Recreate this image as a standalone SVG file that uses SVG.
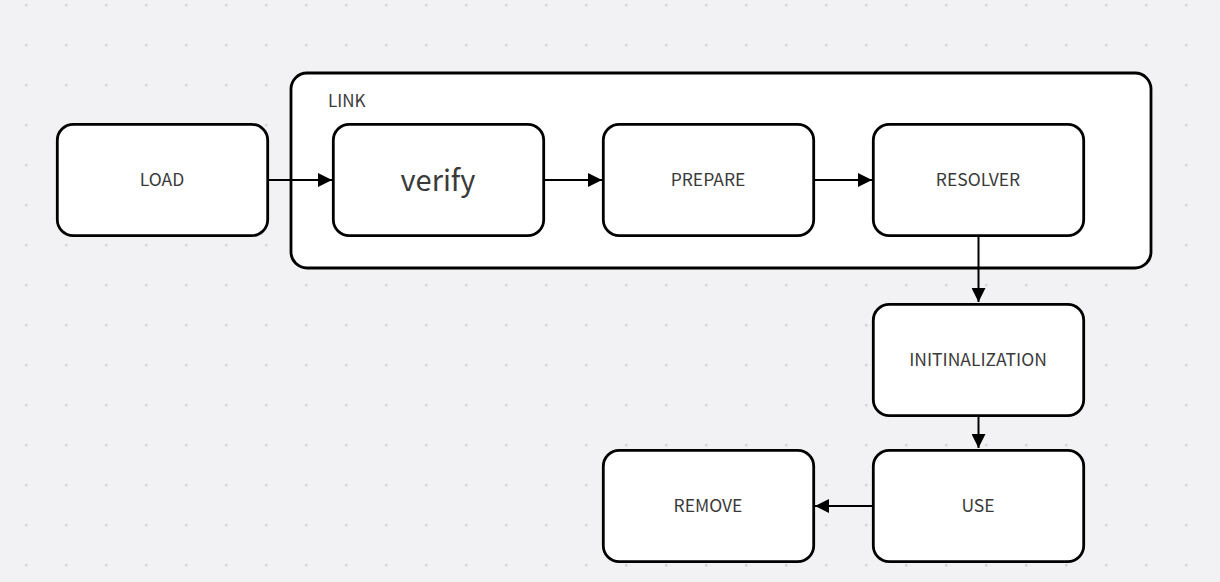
<svg xmlns="http://www.w3.org/2000/svg" width="1220" height="582" viewBox="0 0 1220 582">
<style>
.node rect{fill:#ffffff;stroke:#000000;stroke-width:2.8}
.lbl{font-family:"Noto Sans CJK SC","Noto Sans",sans-serif;font-size:17.5px;fill:#3a3a3a;text-anchor:middle;dominant-baseline:central}
.big{font-size:29px}
.edge{stroke:#000000;stroke-width:2;fill:none;marker-end:url(#arr)}
</style>
<defs>
<pattern id="dots" x="0" y="0" width="40" height="40" patternUnits="userSpaceOnUse">
<rect x="25" y="4" width="2.4" height="2.4" fill="#d2d2d6"/>
</pattern>
<marker id="arr" viewBox="0 0 14 14" refX="14" refY="7" markerWidth="14" markerHeight="14" markerUnits="userSpaceOnUse" orient="auto">
<path d="M0,0 L14,7 L0,14 Z" fill="#000000"/>
</marker>
</defs>
<rect x="0" y="0" width="1220" height="582" fill="#f2f2f4"/>
<rect x="0" y="0" width="1220" height="582" fill="url(#dots)"/>
<g id="link" class="node">
<rect x="291" y="73" width="860" height="195" rx="16"/>
<text x="328" y="99.5" class="lbl" style="text-anchor:start;font-size:17px">LINK</text>
</g>
<g id="connectors">
<line class="edge" x1="268" y1="180" x2="332" y2="180"/>
<line class="edge" x1="544" y1="180" x2="602" y2="180"/>
<line class="edge" x1="814" y1="180" x2="872" y2="180"/>
<line class="edge" x1="978.5" y1="236" x2="978.5" y2="302"/>
<line class="edge" x1="978.5" y1="416" x2="978.5" y2="448"/>
<line class="edge" x1="873" y1="506" x2="815" y2="506"/>
</g>
<g id="load" class="node">
<rect x="57.3" y="124.3" width="210.4" height="111.4" rx="16"/>
<text x="162" y="178.5" class="lbl">LOAD</text>
</g>
<g id="verify" class="node">
<rect x="333.3" y="124.3" width="210.4" height="111.4" rx="16"/>
<text x="438" y="178" class="lbl big">verify</text>
</g>
<g id="prepare" class="node">
<rect x="603.3" y="124.3" width="210.4" height="111.4" rx="16"/>
<text x="708" y="178.5" class="lbl">PREPARE</text>
</g>
<g id="resolver" class="node">
<rect x="873.3" y="124.3" width="210.4" height="111.4" rx="16"/>
<text x="978" y="178.5" class="lbl">RESOLVER</text>
</g>
<g id="init" class="node">
<rect x="873.3" y="304.3" width="210.4" height="111.4" rx="16"/>
<text x="978" y="358.5" class="lbl">INITINALIZATION</text>
</g>
<g id="use" class="node">
<rect x="873.3" y="450.3" width="210.4" height="111.4" rx="16"/>
<text x="978" y="504.5" class="lbl">USE</text>
</g>
<g id="remove" class="node">
<rect x="603.3" y="450.3" width="210.4" height="111.4" rx="16"/>
<text x="708" y="504.5" class="lbl">REMOVE</text>
</g>
</svg>
